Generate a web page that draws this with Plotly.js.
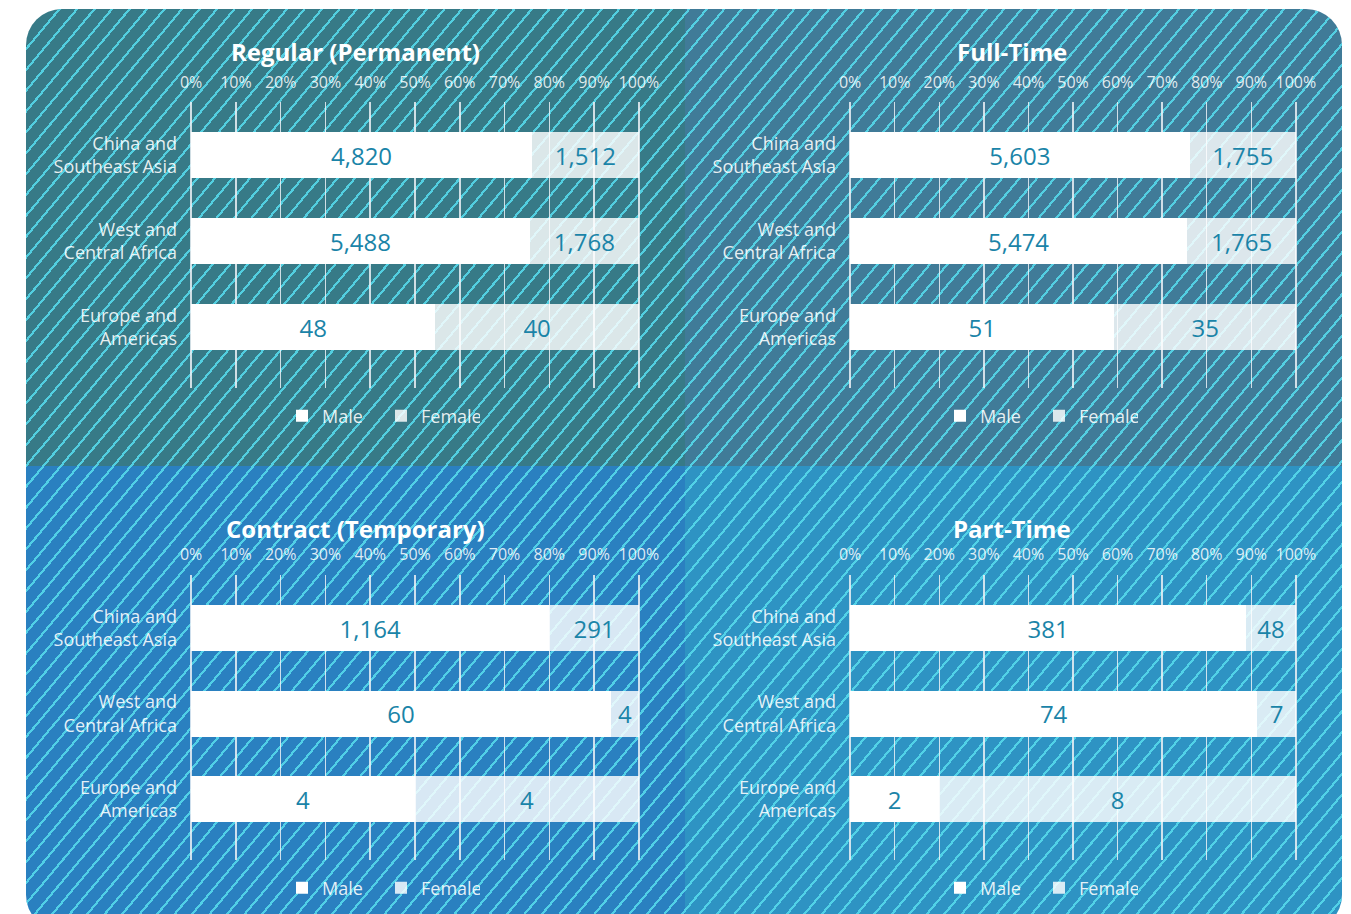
<!DOCTYPE html>
<html><head><meta charset="utf-8">
<script src="https://cdn.plot.ly/plotly-3.0.1.min.js"></script>
<style>
html,body{margin:0;padding:0;background:#fff;width:1351px;height:914px;overflow:hidden;}
#card{position:absolute;left:26px;top:9px;width:1316px;height:922px;border-radius:36px;overflow:hidden;}
.q{position:absolute;}
#stripes{position:absolute;left:0;top:0;width:100%;height:100%;
background:repeating-linear-gradient(130deg, rgba(0,0,0,0) 0px, rgba(0,0,0,0) 11.2px, rgba(86,218,236,0.88) 11.2px, rgba(86,218,236,0.88) 13.4px);}
#chart{position:absolute;left:0;top:0;width:1351px;height:914px;}
</style></head>
<body>
<div id="card">
  <div class="q" style="left:0;top:0;width:659px;height:457px;background:#377a87;"></div>
  <div class="q" style="left:659px;top:0;width:657px;height:457px;background:#407b98;"></div>
  <div class="q" style="left:0;top:457px;width:659px;height:465px;background:#2a80c0;"></div>
  <div class="q" style="left:659px;top:457px;width:657px;height:465px;background:#2e93c3;"></div>
  <div id="stripes"></div>
</div>
<div id="chart"></div>
<script>
// ---- data ----
const categories = ['China and<br>Southeast Asia', 'West and<br>Central Africa', 'Europe and<br>Americas'];
const panelTitles = ['Regular (Permanent)', 'Full-Time', 'Contract (Temporary)', 'Part-Time'];
const seriesNames = ['Male', 'Female'];
const regularMale = [4820, 5488, 48];
const regularFemale = [1512, 1768, 40];
const fullTimeMale = [5603, 5474, 51];
const fullTimeFemale = [1755, 1765, 35];
const contractMale = [1164, 60, 4];
const contractFemale = [291, 4, 4];
const partTimeMale = [381, 74, 2];
const partTimeFemale = [48, 7, 8];
const tickValues = [0, 10, 20, 30, 40, 50, 60, 70, 80, 90, 100];
const tickLabels = ['0%', '10%', '20%', '30%', '40%', '50%', '60%', '70%', '80%', '90%', '100%'];

// ---- styling ----
const W = 1351, H = 914;
const FONT = '"Open Sans", sans-serif';
const maleColor = '#ffffff';
const femaleColor = 'rgba(255,255,255,0.82)';
const valueColor = '#1a84a8';
const lightText = 'rgba(255,255,255,0.88)';

const panels = [
  {male: regularMale, female: regularFemale, xd: [190, 640], yd: [102, 388], title: [355, 51], legend: [292, 416], standoff: 10},
  {male: fullTimeMale, female: fullTimeFemale, xd: [849, 1297], yd: [102, 388], title: [1012, 51], legend: [950, 416], standoff: 10},
  {male: contractMale, female: contractFemale, xd: [190, 640], yd: [575, 860], title: [355, 528], legend: [292, 888], standoff: 11},
  {male: partTimeMale, female: partTimeFemale, xd: [849, 1297], yd: [575, 860], title: [1012, 528], legend: [950, 888], standoff: 11}
];

const fmt = v => v.toLocaleString('en-US');
const data = [];
const layout = {
  width: W, height: H,
  paper_bgcolor: 'rgba(0,0,0,0)', plot_bgcolor: 'rgba(0,0,0,0)',
  margin: {l: 0, r: 0, t: 0, b: 0},
  barmode: 'stack', bargap: 0.465,
  font: {family: FONT, color: lightText},
  annotations: []
};

panels.forEach((p, i) => {
  const n = i === 0 ? '' : String(i + 1);
  const xa = 'x' + n, ya = 'y' + n;
  const lg = 'legend' + n;
  const totals = p.male.map((m, k) => m + p.female[k]);
  const series = [p.male, p.female];
  series.forEach((vals, s) => {
    data.push({
      type: 'bar', orientation: 'h',
      name: seriesNames[s],
      x: vals.map((v, k) => v / totals[k] * 100),
      y: categories,
      xaxis: xa, yaxis: ya, legend: lg,
      marker: {color: s === 0 ? maleColor : femaleColor, line: {width: 0}},
      text: vals.map(fmt),
      textposition: 'inside', insidetextanchor: 'middle',
      constraintext: 'none',
      textfont: {family: FONT, size: 24, color: valueColor},
      hoverinfo: 'skip'
    });
  });
  layout['xaxis' + n] = {
    domain: [p.xd[0] / W, p.xd[1] / W], anchor: ya, side: 'top',
    range: [-0.25, 100.25], tickmode: 'array', tickvals: tickValues, ticktext: tickLabels,
    showgrid: true, gridcolor: 'rgba(235,240,245,0.85)', gridwidth: 1.5,
    zeroline: false, showline: false, ticks: '', fixedrange: true,
    tickfont: {family: FONT, size: 16, color: 'rgba(255,255,255,0.85)'},
    ticklabelstandoff: p.standoff
  };
  layout['yaxis' + n] = {
    domain: [1 - p.yd[1] / H, 1 - p.yd[0] / H], anchor: xa,
    type: 'category', categoryorder: 'array', categoryarray: categories,
    range: [2.71, -0.62], showgrid: false, zeroline: false, showline: false,
    ticks: '', fixedrange: true,
    tickfont: {family: FONT, size: 18, color: lightText},
    ticklabelstandoff: 12
  };
  layout[lg] = {
    orientation: 'h', x: (p.legend[0] - 10) / W, y: 1 - p.legend[1] / H,
    xanchor: 'left', yanchor: 'middle', bgcolor: 'rgba(0,0,0,0)',
    font: {family: FONT, size: 18, color: lightText},
    entrywidth: 54, entrywidthmode: 'pixels', traceorder: 'normal'
  };
  layout.annotations.push({
    text: '<b>' + panelTitles[i] + '</b>', xref: 'paper', yref: 'paper',
    x: p.title[0] / W, y: 1 - p.title[1] / H, xanchor: 'center', yanchor: 'middle',
    showarrow: false, borderpad: 0, font: {family: FONT, size: 24, color: '#ffffff'}
  });
});

Plotly.newPlot('chart', data, layout, {displayModeBar: false, staticPlot: true});
</script>
</body></html>
